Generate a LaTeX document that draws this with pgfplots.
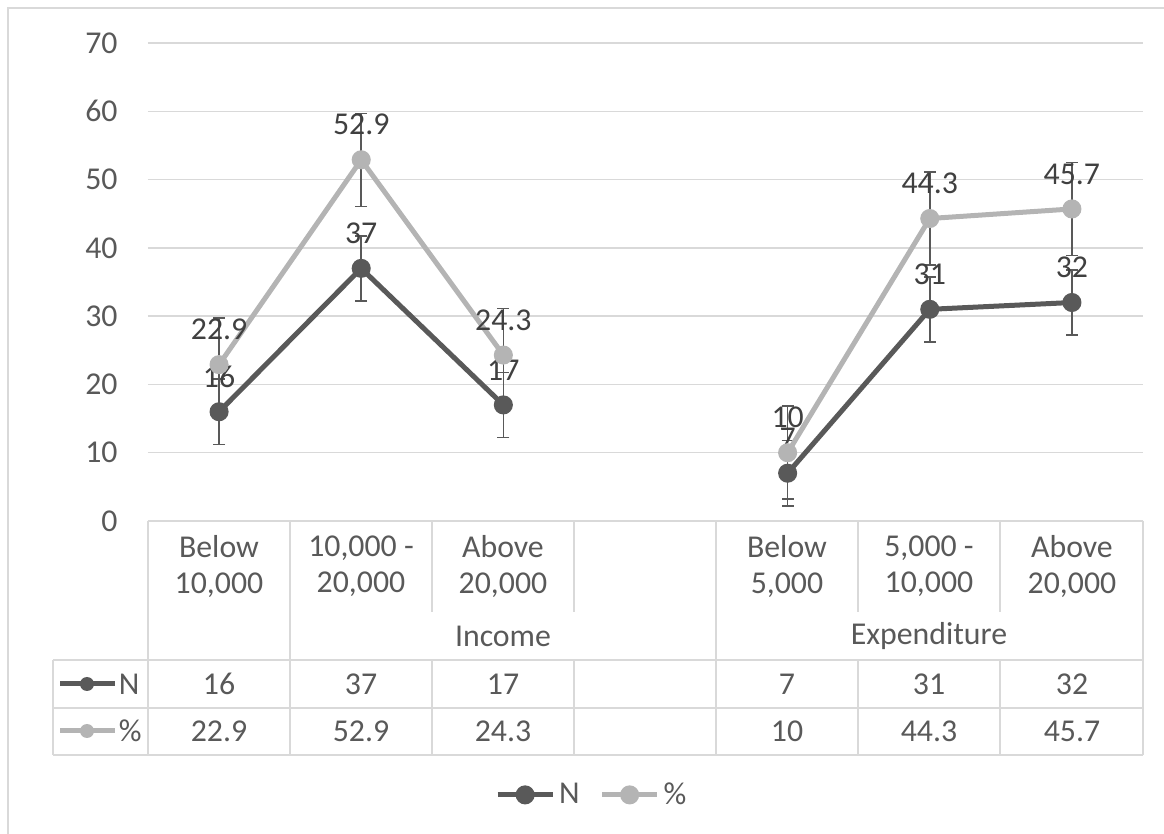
\documentclass[border=0pt]{standalone}
\usepackage{fontspec}
\setmainfont{Carlito}
\usepackage{pgfplots}
\pgfplotsset{compat=1.18}
\definecolor{serN}{HTML}{595959}
\definecolor{serP}{HTML}{B4B4B4}
\definecolor{gridc}{HTML}{D9D9D9}
\definecolor{txt}{HTML}{595959}
\definecolor{lab}{HTML}{404040}
\newcommand{\chartfont}{\fontsize{15.9}{18}\selectfont}

\begin{document}
\begin{tikzpicture}
% frame and canvas (units: 0.5pt, y downwards)
\begin{scope}[x=0.5pt,y=-0.5pt]
  \useasboundingbox (0,0) rectangle (1164,834);
  \draw[gridc, line width=0.75pt] (8,834) -- (8,8) -- (1164,8);
\end{scope}

\begin{axis}[
  at={(74pt,-260.5pt)}, anchor=south west,
  scale only axis, width=497.5pt, height=239pt,
  xmin=-0.5, xmax=6.5, ymin=0, ymax=70,
  xtick=\empty, ytick={0,10,...,70},
  ymajorgrids, grid style={gridc, line width=0.75pt},
  axis line style={draw=none}, major tick length=0pt,
  /pgf/number format/assume math mode=true,
  y tick label style={font=\chartfont, text=txt, inner sep=0pt, xshift=-15pt},
  unbounded coords=jump, clip=false,
  legend style={at={(0.447,-0.573)}, anchor=center, draw=none, fill=none,
    legend columns=2, font=\chartfont, text=txt,
    /tikz/every even column/.append style={column sep=8pt}},
  legend image code/.code={\draw[mark repeat=2,mark phase=2,#1]
    plot coordinates {(0pt,0pt)(13.75pt,0pt)(27.5pt,0pt)};},
  every node near coord/.append style={anchor=center, yshift=17.5pt,
    font=\chartfont, text=lab},
]
% N series, standard error 4.77
\addplot[serN, line width=2.5pt, mark=*, mark size=3.5pt,
  nodes near coords,
  error bars/.cd, y dir=both, y fixed=4.77,
  error bar style={line width=0.75pt, serN},
  error mark options={rotate=90, mark size=3pt, line width=0.75pt, serN}]
  coordinates {(0,16)(1,37)(2,17)(3,nan)(4,7)(5,31)(6,32)};
\addlegendentry{N}
% percentage series, standard error 6.81
\addplot[serP, line width=2.5pt, mark=*, mark size=3.5pt,
  nodes near coords,
  error bars/.cd, y dir=both, y fixed=6.81,
  error bar style={line width=0.75pt, serN},
  error mark options={rotate=90, mark size=3pt, line width=0.75pt, serN}]
  coordinates {(0,22.9)(1,52.9)(2,24.3)(3,nan)(4,10)(5,44.3)(6,45.7)};
\addlegendentry{\%}
\end{axis}

% data table below the plot
\begin{scope}[x=0.5pt,y=-0.5pt, line width=0.75pt]
  \draw[gridc] (148,521) -- (1143,521);
  \foreach \yy in {660,708,755} \draw[gridc] (53,\yy) -- (1143,\yy);
  \draw[gridc] (53,660) -- (53,755);
  \foreach \xx in {148,290,716,1143} \draw[gridc] (\xx,521) -- (\xx,755);
  \foreach \xx in {432,574,858,1000} {
    \draw[gridc] (\xx,521) -- (\xx,612);
    \draw[gridc] (\xx,660) -- (\xx,755);
  }
  \begin{scope}[every node/.style={font=\chartfont, text=txt, inner sep=0pt, align=center}]
    \node at (219,566) {Below\\10,000};
    \node at (361,566) {10,000 -\\20,000};
    \node at (503,566) {Above\\20,000};
    \node at (787,566) {Below\\5,000};
    \node at (929,566) {5,000 -\\10,000};
    \node at (1072,566) {Above\\20,000};
    \node at (503,636) {Income};
    \node at (929,636) {Expenditure};
    \foreach \xx/\v in {219/16,361/37,503/17,787/7,929/31,1072/32}
      \node at (\xx,684) {\v};
    \foreach \xx/\v in {219/22.9,361/52.9,503/24.3,787/10,929/44.3,1072/45.7}
      \node at (\xx,731) {\v};
    \node[anchor=west] at (118,684) {N};
    \node[anchor=west] at (118,731) {\%};
  \end{scope}
  \draw[serN, line width=2.5pt] (60,684) -- (115,684);
  \fill[serN] (87,684) circle (7);
  \draw[serP, line width=2.5pt] (60,731) -- (115,731);
  \fill[serP] (87,731) circle (7);
\end{scope}
\end{tikzpicture}
\end{document}
